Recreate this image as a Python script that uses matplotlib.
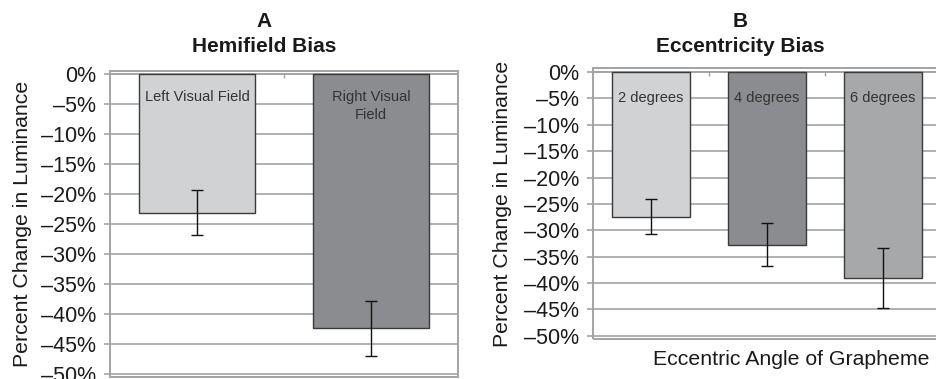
import numpy as np
import matplotlib
matplotlib.use('Agg')
import matplotlib.pyplot as plt
from matplotlib.patches import Rectangle
from matplotlib.ticker import FuncFormatter

# panel A - hemifield
hemi_labels = ['Left Visual Field', 'Right Visual\nField']
hemi_values = [-23.1, -42.4]
hemi_err = [3.7, 4.6]
hemi_colors = ['#d1d2d4', '#8b8c8f']

# panel B - eccentricity
ecc_labels = ['2 degrees', '4 degrees', '6 degrees']
ecc_values = [-27.4, -32.7, -39.0]
ecc_err = [3.3, 4.05, 5.7]
ecc_colors = ['#d1d2d4', '#8b8c8f', '#a7a8aa']

yticks = np.arange(-50, 1, 5)

plt.rcParams['font.family'] = ['Liberation Sans', 'DejaVu Sans']
grid_c = '#a3a3a3'
txt_c = '#1a1a1a'

fig = plt.figure(figsize=(9.37, 3.79), dpi=100)

def pct(v, pos):
    if v == 0:
        return '0%'
    return '\u2013%d%%' % abs(v)

def panel(ax, labels, values, errs, colors, ylim, lab_off):
    n = len(values)
    x = np.arange(n)
    ax.set_axisbelow(True)
    ax.bar(x, values, width=0.667, color=colors, edgecolor='#3a3a3a', linewidth=1.0,
           yerr=errs, error_kw=dict(ecolor='#111111', elinewidth=1.0, capsize=4, capthick=1.0),
           zorder=3)
    for xi, lab in zip(x, labels):
        ax.annotate(lab, (xi, 0), xytext=(0, lab_off), textcoords='offset points',
                    ha='center', va='top', fontsize=10.5, color='#333333', zorder=4,
                    linespacing=1.35)
    ax.set_xlim(-0.5, n - 0.5)
    ax.set_ylim(*ylim)
    ax.set_yticks(yticks)
    ax.yaxis.set_major_formatter(FuncFormatter(pct))
    ax.yaxis.grid(True, color=grid_c, linewidth=1.2)
    ax.tick_params(axis='y', length=4.5, width=1.2, color=grid_c, pad=5.5,
                   labelsize=15.5, labelcolor=txt_c)
    # small ticks on the zero line between categories
    for s in ['left', 'right', 'bottom']:
        ax.spines[s].set_visible(False)
    ax.spines['top'].set_position(('data', 0))
    ax.spines['top'].set_color(grid_c)
    ax.spines['top'].set_linewidth(1.2)
    ax.xaxis.tick_top()
    ax.set_xticks(np.arange(1, n) - 0.5)
    ax.tick_params(axis='x', direction='in', length=3, width=1, color=grid_c,
                   labeltop=False, labelbottom=False)
    ax.add_patch(Rectangle((0, 0), 1, 1, transform=ax.transAxes, fill=False,
                           edgecolor=grid_c, linewidth=1.4, clip_on=False, zorder=5))
    ax.set_ylabel('Percent Change in Luminance', fontsize=15.3, color=txt_c)

W, H = 937.0, 379.0
axA = fig.add_axes([110 / W, 1 - 377 / H, 348 / W, 306 / H])
panel(axA, hemi_labels, hemi_values, hemi_err, hemi_colors, (-50.5, 0.5), -11.5)
axA.yaxis.set_label_coords(-0.225, 0.5)

axB = fig.add_axes([593 / W, 1 - 339 / H, 348 / W, 271 / H])
panel(axB, ecc_labels, ecc_values, ecc_err, ecc_colors, (-50.6, 0.75), -13.5)
axB.yaxis.set_label_coords(-0.233, 0.5)

fig.text(264 / W, 1 - 27 / H, 'A', ha='center', va='baseline', fontsize=15,
         fontweight='bold', color=txt_c)
fig.text(264 / W, 1 - 52 / H, 'Hemifield Bias', ha='center', va='baseline', fontsize=15,
         fontweight='bold', color=txt_c)
fig.text(740 / W, 1 - 27 / H, 'B', ha='center', va='baseline', fontsize=15,
         fontweight='bold', color=txt_c)
fig.text(740 / W, 1 - 52 / H, 'Eccentricity Bias', ha='center', va='baseline', fontsize=15,
         fontweight='bold', color=txt_c)
fig.text(791 / W, 1 - 365 / H, 'Eccentric Angle of Grapheme', ha='center', va='baseline',
         fontsize=15.3, color=txt_c)

fig.savefig('out.png', dpi=100)
